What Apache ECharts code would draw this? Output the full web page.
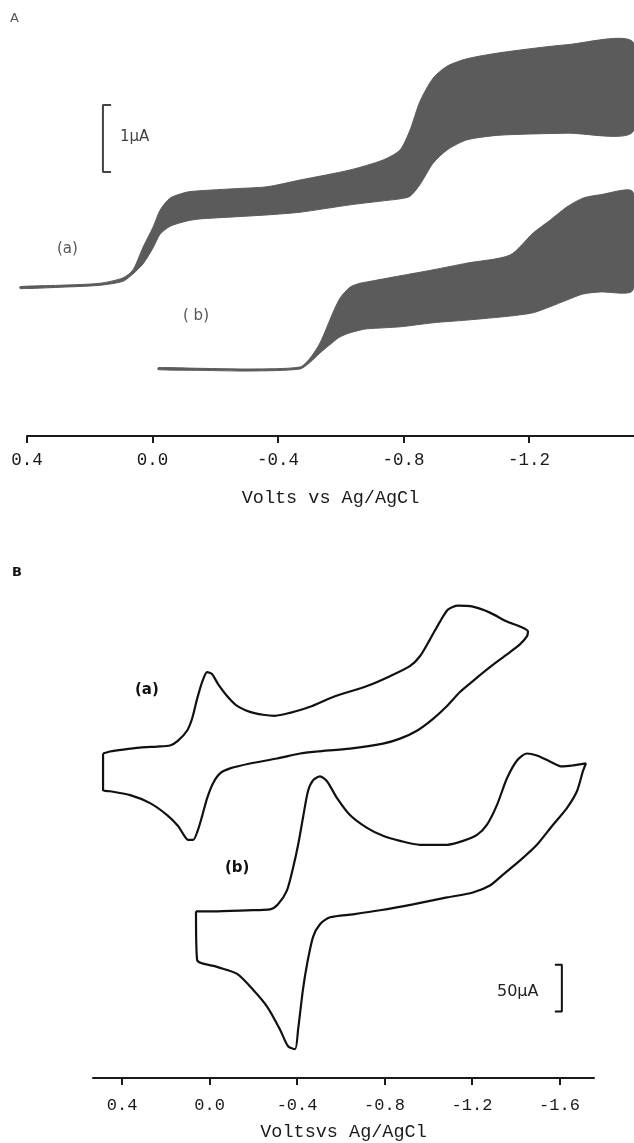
<!DOCTYPE html>
<html>
<head>
<meta charset="utf-8">
<script src="https://cdn.jsdelivr.net/npm/echarts@6/dist/echarts.min.js"></script>
<style>
html,body{margin:0;padding:0;background:#fff;}
#chart{width:634px;height:1143px;}
</style>
</head>
<body>
<div id="chart"></div>
<script>
// ---------- Panel A: polarograms (band = oscillating current envelope) ----------
// potential (V vs Ag/AgCl), upper and lower envelope (µA)
const aV   = [0.422,0.295,0.167,0.094,0.062,0.030,-0.002,-0.024,-0.056,-0.110,-0.151,-0.257,-0.365,-0.470,-0.629,-0.735,-0.789,-0.821,-0.852,-0.894,-0.939,-1.002,-1.107,-1.321,-1.531];
const aTop = [2.23,2.25,2.28,2.36,2.48,2.82,3.12,3.37,3.55,3.64,3.66,3.69,3.72,3.82,3.97,4.12,4.27,4.57,4.99,5.34,5.52,5.63,5.72,5.84,5.88];
const aBot = [2.20,2.22,2.25,2.31,2.42,2.57,2.81,3.01,3.13,3.21,3.24,3.27,3.30,3.34,3.45,3.51,3.54,3.58,3.75,4.07,4.27,4.42,4.49,4.52,4.54];

const bV   = [-0.018,-0.151,-0.311,-0.470,-0.502,-0.534,-0.575,-0.598,-0.629,-0.661,-0.684,-0.789,-0.894,-1.002,-1.139,-1.213,-1.267,-1.321,-1.372,-1.426,-1.531];
const bTop = [1.02,1.01,1.00,1.03,1.16,1.39,1.84,2.06,2.22,2.28,2.30,2.39,2.48,2.58,2.70,3.03,3.22,3.42,3.55,3.60,3.64];
const bBot = [0.99,0.98,0.97,1.00,1.10,1.24,1.40,1.48,1.54,1.58,1.60,1.63,1.69,1.73,1.79,1.84,1.93,2.03,2.12,2.15,2.18];

const ticksA = [0.4, 0.0, -0.4, -0.8, -1.2];

// ---------- Panel B: cyclic voltammograms (closed loops) ----------
const cvaV = [0.487,0.455,0.395,0.318,0.240,0.181,0.144,0.103,0.080,0.057,0.034,0.011,-0.011,-0.039,-0.080,-0.126,-0.185,-0.245,-0.299,-0.368,-0.459,-0.565,-0.720,-0.825,-0.916,-0.962,-1.008,-1.054,-1.090,-1.136,-1.204,-1.282,-1.360,-1.419,-1.456,-1.451,-1.419,-1.360,-1.282,-1.204,-1.145,-1.086,-1.022,-0.948,-0.871,-0.793,-0.642,-0.491,-0.414,-0.309,-0.185,-0.094,-0.048,-0.016,0.011,0.034,0.053,0.075,0.098,0.121,0.144,0.194,0.272,0.363,0.455,0.487,0.487];
const cvaI = [347.9,350.0,352.1,354.2,355.3,356.4,361.7,372.3,385.1,406.4,424.5,435.1,433.0,422.3,409.6,398.9,392.5,389.4,388.3,391.5,397.9,408.5,420.2,430.8,441.5,452.1,470.2,489.3,502.1,506.4,505.3,498.9,489.3,484.0,478.7,473.4,464.9,454.2,440.4,425.5,413.8,398.9,385.1,372.3,363.8,358.5,353.2,350.0,347.9,342.5,337.2,331.9,326.6,316.0,300.0,280.8,266.0,255.3,255.3,261.7,270.2,281.9,294.7,303.2,307.4,308.5,347.9];

const cvbV = [0.062,-0.016,-0.171,-0.277,-0.313,-0.354,-0.382,-0.405,-0.427,-0.450,-0.473,-0.505,-0.537,-0.583,-0.642,-0.720,-0.793,-0.871,-0.962,-1.086,-1.159,-1.223,-1.268,-1.314,-1.360,-1.406,-1.451,-1.497,-1.556,-1.611,-1.662,-1.721,-1.707,-1.680,-1.634,-1.570,-1.497,-1.419,-1.342,-1.282,-1.204,-1.086,-0.930,-0.779,-0.656,-0.551,-0.505,-0.473,-0.446,-0.427,-0.405,-0.391,-0.359,-0.322,-0.263,-0.199,-0.126,-0.034,0.057,0.062];
const cvbI = [178.7,178.7,179.8,180.8,186.2,201.1,225.5,250.0,278.7,307.4,319.1,323.4,318.1,300.0,281.9,268.1,259.6,254.2,250.0,250.0,254.2,260.6,271.3,292.5,321.3,340.4,347.9,345.7,339.4,334.0,335.1,337.2,328.7,307.4,289.4,271.3,250.0,233.0,218.1,206.4,198.9,193.6,186.2,179.8,175.5,172.3,164.9,151.1,122.3,94.7,52.1,30.9,34.0,52.1,76.6,94.7,111.7,119.1,126.6,178.7];

const ticksB = [0.4, 0.0, -0.4, -0.8, -1.2, -1.6];

// scale bars (1 µA for A, 50 µA for B)
const barA = {x: 0.158, serif: 0.132, y0: 3.94, len: 1};
const barB = {x: -1.611, serif: -1.579, y0: 71.3, len: 50};

// ---------- build ----------
const zip = (xs, ys) => xs.map((x, i) => [x, ys[i]]);
const band = '#5b5b5b';
const mono = '"Liberation Mono", "DejaVu Sans Mono", monospace';
const sans = '"DejaVu Sans", "Liberation Sans", sans-serif';

// band drawn as one filled polygon: upper envelope forward, lower envelope back
function bandSeries(v, top, bot, key) {
  return {
    type: 'custom', name: key, xAxisIndex: 0, yAxisIndex: 0, clip: false,
    data: v.map((x, i) => [x, top[i], bot[i]]),
    encode: {x: 0, y: [1, 2]},
    renderItem: function (params, api) {
      if (params.dataIndex !== 0) return null;
      const pts = [];
      for (let i = 0; i < v.length; i++) pts.push(api.coord([v[i], top[i]]));
      for (let i = v.length - 1; i >= 0; i--) pts.push(api.coord([v[i], bot[i]]));
      return {
        type: 'polygon',
        shape: {points: pts, smooth: 0.25},
        style: {fill: band, stroke: band, lineWidth: 1}
      };
    }
  };
}

function bracket(b, xi, w) {
  return {
    type: 'line', xAxisIndex: xi, yAxisIndex: xi, symbol: 'none', clip: false,
    data: [[b.serif, b.y0 + b.len], [b.x, b.y0 + b.len], [b.x, b.y0], [b.serif, b.y0]],
    lineStyle: {color: xi === 0 ? '#444' : '#111', width: w}
  };
}

function xAxisCfg(grid, min, max, ticks, name, labMargin, nameGap, fs) {
  return {
    gridIndex: grid, type: 'value', inverse: true, min: min, max: max,
    splitLine: {show: false},
    axisLine: {show: true, onZero: false, lineStyle: {color: '#1a1a1a', width: 2}},
    axisTick: {show: true, length: 7, customValues: ticks, lineStyle: {color: '#1a1a1a', width: 2}},
    axisLabel: {customValues: ticks, margin: labMargin, color: '#1a1a1a', fontFamily: mono, fontSize: fs,
      formatter: v => (Math.abs(v) < 1e-9 ? 0 : v).toFixed(1)},
    name: name, nameLocation: 'middle', nameGap: nameGap,
    nameTextStyle: {fontFamily: mono, fontSize: 18.5, color: '#1a1a1a'}
  };
}

const chart = echarts.init(document.getElementById('chart'), null, {renderer: 'canvas'});
chart.setOption({
  backgroundColor: '#fff',
  animation: false,
  grid: [
    {left: 27, right: 0, top: 30, bottom: 707},
    {left: 93, right: 40, top: 560, bottom: 61}
  ],
  xAxis: [
    xAxisCfg(0, -1.5345, 0.4, ticksA, 'Volts vs Ag/AgCl', 15, 53, 17.5),
    xAxisCfg(1, -1.758, 0.533, ticksB, 'Voltsvs Ag/AgCl', 19, 45, 17)
  ],
  yAxis: [
    {gridIndex: 0, type: 'value', min: 0, max: (436 - 30) / 67, show: false},
    {gridIndex: 1, type: 'value', min: 0, max: (1082 - 560) * 50 / 47, show: false}
  ],
  series: [
    bandSeries(aV, aTop, aBot, 'A(a)'),
    bandSeries(bV, bTop, bBot, 'A(b)'),
    bracket(barA, 0, 2),
    {type: 'line', name: 'CV (a)', xAxisIndex: 1, yAxisIndex: 1, data: zip(cvaV, cvaI),
      symbol: 'none', smooth: 0.25, clip: false, lineStyle: {color: '#111', width: 2.2}},
    {type: 'line', name: 'CV (b)', xAxisIndex: 1, yAxisIndex: 1, data: zip(cvbV, cvbI),
      symbol: 'none', smooth: 0.25, clip: false, lineStyle: {color: '#111', width: 2.2}},
    bracket(barB, 1, 2)
  ],
  graphic: [
    {type: 'text', left: 10, top: 12, style: {text: 'A', font: '13px ' + sans, fill: '#555'}},
    {type: 'text', left: 120, top: 130, style: {text: '1µA', font: '15px ' + sans, fill: '#444'}},
    {type: 'text', left: 57, top: 242, style: {text: '(a)', font: '15px ' + sans, fill: '#555'}},
    {type: 'text', left: 183, top: 309, style: {text: '( b)', font: '15px ' + sans, fill: '#555'}},
    {type: 'text', left: 12, top: 566, style: {text: 'B', font: 'bold 13px ' + sans, fill: '#111'}},
    {type: 'text', left: 135, top: 683, style: {text: '(a)', font: 'bold 15px ' + sans, fill: '#111'}},
    {type: 'text', left: 225, top: 861, style: {text: '(b)', font: 'bold 15px ' + sans, fill: '#111'}},
    {type: 'text', left: 497, top: 984, style: {text: '50µA', font: '16px ' + sans, fill: '#222'}}
  ]
});
</script>
</body>
</html>
